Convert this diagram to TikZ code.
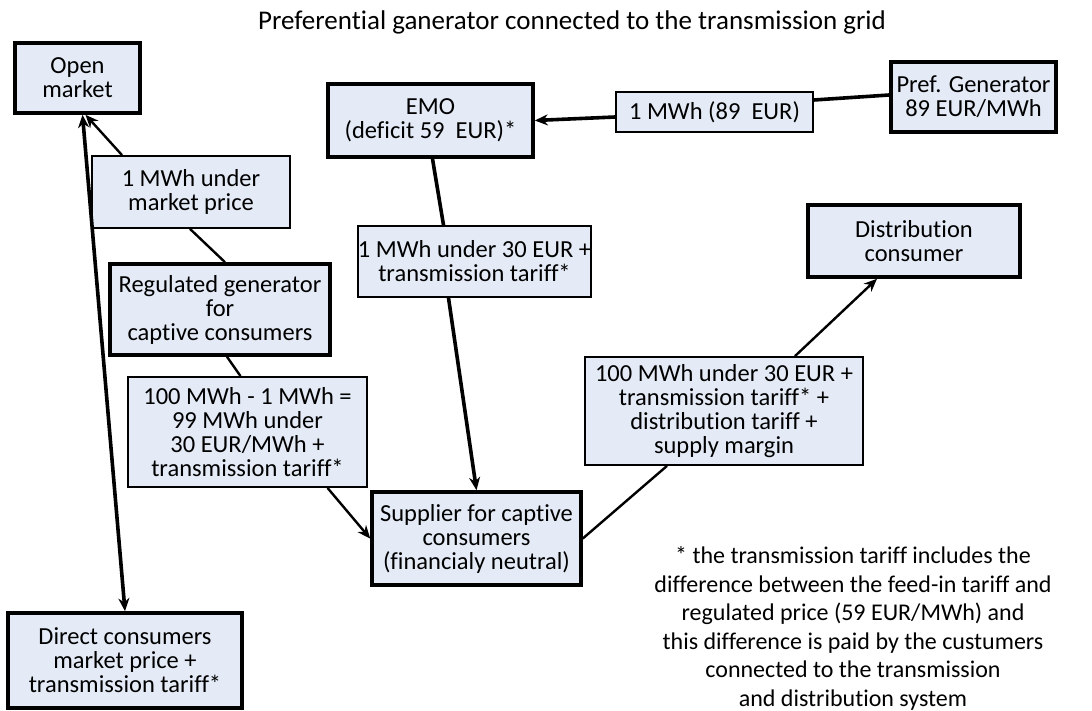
\documentclass[tikz,border=0pt]{standalone}
\usepackage{fontspec}
\setmainfont{Carlito}[Ligatures=NoCommon]
\usetikzlibrary{arrows.meta}
\definecolor{boxfill}{RGB}{228,235,246}
\begin{document}
\begin{tikzpicture}[x=1pt,y=-1pt,
  every node/.style={font=\fontsize{24.5}{24}\selectfont, align=center, inner sep=0pt},
  actor/.style={draw, line width=3.6pt, fill=boxfill},
  flowlbl/.style={draw, line width=1.8pt, fill=boxfill},
  conn/.style={line width=2.4pt},
  thickconn/.style={line width=3.6pt},
  arr/.style={-{Stealth[length=13pt,width=11pt]}}]
\useasboundingbox (0,0) rectangle (1092,711);
\node[font=\fontsize{27}{30}\selectfont] (title) at (572,22) {Preferential ganerator connected to the transmission grid};
\node[actor, minimum width=125pt, minimum height=70pt] (om) at (77.5,78) {Open\\market};
\node[flowlbl, minimum width=198pt, minimum height=72pt] (lblmkt) at (191,192) {1 MWh under\\market price};
\node[actor, minimum width=220pt, minimum height=91pt] (reg) at (220,309.5) {Regulated generator\\for\\captive consumers};
\node[flowlbl, minimum width=239pt, minimum height=110pt] (lbl100) at (247.5,432) {100 MWh - 1 MWh =\\99 MWh under\\30 EUR/MWh +\\transmission tariff*};
\node[actor, minimum width=234pt, minimum height=95pt] (direct) at (125,660.5) {Direct consumers\\market price +\\transmission tariff*};
\node[actor, minimum width=205pt, minimum height=73pt] (emo) at (430.5,120.5) {EMO\\(deficit 59\ \ EUR)*};
\node[flowlbl, minimum width=197pt, minimum height=40pt] (lbl89) at (714.5,112) {1 MWh (89\ \ EUR)};
\node[actor, minimum width=165pt, minimum height=70pt] (pref) at (973.5,97) {Pref. Generator\\89 EUR/MWh};
\node[flowlbl, minimum width=225pt, minimum height=71pt] (lbl1) at (474.5,261.5) {1 MWh under 30 EUR +\\transmission tariff*};
\node[actor, minimum width=209pt, minimum height=93pt] (sup) at (476.5,538.5) {Supplier for captive\\consumers\\(financialy neutral)};
\node[flowlbl, minimum width=278pt, minimum height=108pt] (lbl100b) at (724,411) {100 MWh under 30 EUR +\\transmission tariff* +\\distribution tariff +\\supply margin};
\node[actor, minimum width=212pt, minimum height=72pt] (dist) at (914,241) {Distribution\\consumer};
\node[font=\fontsize{24}{28.6}\selectfont] (note) at (853,628.5) {* the transmission tariff includes the\\difference between the feed-in tariff and\\regulated price (59 EUR/MWh) and\\this difference is paid by the custumers\\connected to the transmission\\and distribution system};
\draw[conn] ([xshift=5pt]reg.north) -- ([xshift=-1pt]lblmkt.south);
\draw[conn,arr] ([xshift=-69pt]lblmkt.north) -- ([xshift=8pt]om.south);
\draw[thickconn,{Stealth[length=13pt,width=11pt]}-{Stealth[length=13pt,width=11pt]}] ([xshift=5pt]om.south) -- (direct.north);
\draw[conn] ([xshift=7pt]reg.south) -- ([xshift=-7pt]lbl100.north);
\draw[conn,arr] ([xshift=80pt]lbl100.south) -- (sup.west);
\draw[thickconn] ([xshift=2pt]emo.south) -- ([xshift=-31pt]lbl1.north);
\draw[thickconn,arr] ([xshift=-26pt]lbl1.south) -- (sup.north);
\draw[thickconn] ([yshift=2pt]pref.west) -- ([yshift=12pt]lbl89.east);
\draw[thickconn,arr] ([yshift=-5pt]lbl89.west) -- (emo.east);
\draw[conn] (sup.east) -- ([xshift=-57pt]lbl100b.south);
\draw[conn,arr] ([xshift=71pt]lbl100b.north) -- ([xshift=-37pt]dist.south);
\end{tikzpicture}
\end{document}
